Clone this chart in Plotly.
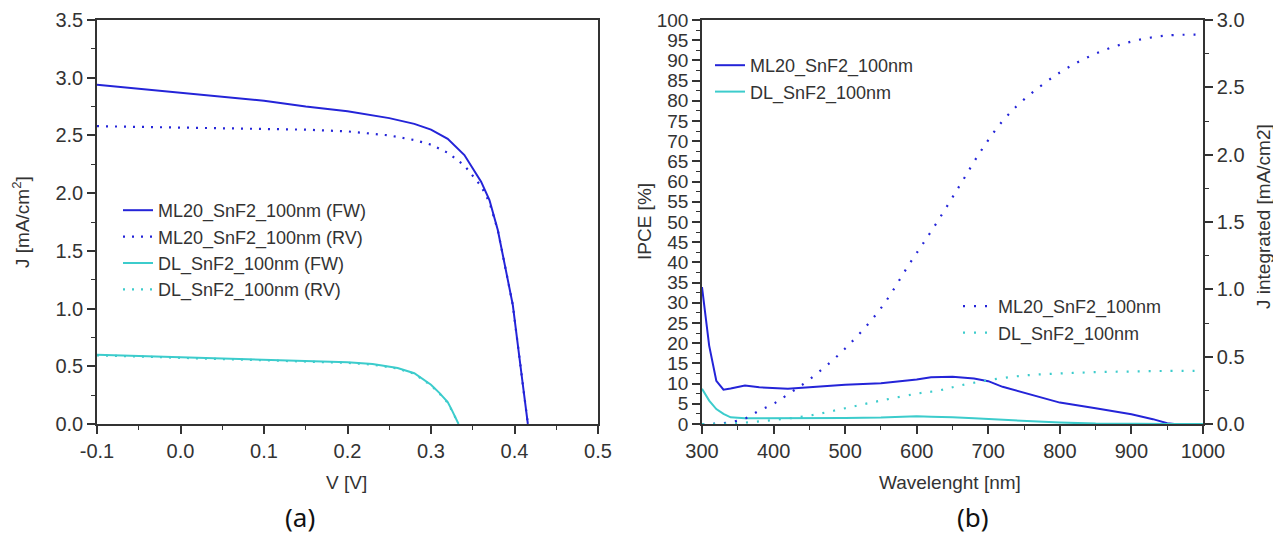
import plotly.graph_objects as go

# (a) J-V curves
v_ml_fw = [-0.1, -0.05, 0.0, 0.05, 0.1, 0.15, 0.2, 0.25, 0.28, 0.3, 0.32, 0.34, 0.36, 0.37, 0.38, 0.39, 0.398, 0.41, 0.416]
j_ml_fw = [2.94, 2.905, 2.87, 2.835, 2.80, 2.75, 2.71, 2.65, 2.60, 2.55, 2.47, 2.33, 2.10, 1.94, 1.68, 1.32, 1.03, 0.34, 0.0]
v_ml_rv = [-0.1, 0.0, 0.1, 0.15, 0.2, 0.25, 0.28, 0.3, 0.32, 0.34, 0.36, 0.37, 0.38, 0.39, 0.398, 0.41, 0.416]
j_ml_rv = [2.58, 2.57, 2.56, 2.55, 2.535, 2.50, 2.46, 2.42, 2.35, 2.24, 2.06, 1.92, 1.68, 1.32, 1.03, 0.34, 0.0]
v_dl = [-0.1, -0.05, 0.0, 0.05, 0.1, 0.15, 0.2, 0.23, 0.26, 0.28, 0.30, 0.31, 0.32, 0.325, 0.333]
j_dl_fw = [0.60, 0.59, 0.58, 0.57, 0.56, 0.55, 0.535, 0.52, 0.485, 0.44, 0.34, 0.27, 0.19, 0.12, 0.0]
j_dl_rv = [0.595, 0.585, 0.575, 0.565, 0.555, 0.545, 0.53, 0.515, 0.48, 0.435, 0.335, 0.265, 0.185, 0.115, 0.0]
v_ticks = [-0.1, 0.0, 0.1, 0.2, 0.3, 0.4, 0.5]
v_tick_labels = ['-0.1', '0.0', '0.1', '0.2', '0.3', '0.4', '0.5']

# (b) IPCE and integrated current
wl_ipce = [300, 305, 310, 320, 330, 340, 360, 380, 400, 420, 450, 500, 550, 600, 620, 650, 680, 700, 720, 750, 800, 850, 900, 930, 950, 960, 1000]
ipce_ml = [33.9, 26, 19.4, 10.7, 8.5, 8.8, 9.5, 9.1, 8.9, 8.7, 9.1, 9.7, 10.1, 11.0, 11.6, 11.7, 11.25, 10.6, 9.2, 7.7, 5.3, 3.9, 2.4, 1.2, 0.2, 0.0, 0.0]
ipce_dl = [8.7, 7.2, 5.8, 3.7, 2.5, 1.65, 1.4, 1.4, 1.4, 1.45, 1.5, 1.5, 1.6, 1.9, 1.8, 1.7, 1.4, 1.2, 1.0, 0.75, 0.35, 0.1, 0.0, 0.0, 0.0, 0.0, 0.0]
wl_jint_ml = [300, 330, 360, 380, 400, 420, 450, 500, 550, 590, 625, 660, 690, 720, 750, 800, 850, 900, 950, 1000]
jint_ml = [0, 0.007, 0.04, 0.10, 0.15, 0.22, 0.33, 0.56, 0.86, 1.19, 1.47, 1.77, 2.03, 2.25, 2.41, 2.61, 2.75, 2.84, 2.885, 2.89]
wl_jint_dl = [300, 350, 400, 450, 500, 550, 600, 632, 660, 700, 750, 800, 850, 900, 950, 1000]
jint_dl = [0, 0.007, 0.03, 0.062, 0.117, 0.174, 0.225, 0.25, 0.285, 0.325, 0.36, 0.375, 0.385, 0.39, 0.394, 0.395]

BLUE = '#2424d8'
CYAN = '#3ccccc'
# the page body keeps its default 8px margin, so the figure is shifted by that much
PAD = 8
W, H = 1281 - PAD, 537 - PAD
FONT = 'Liberation Sans, Arial, sans-serif'
TXT = '#333333'
AX = '#333333'


def px_x(x):
    return (x - PAD) / W


def px_y(y):
    return 1 - (y - PAD) / H


fig = go.Figure()

fig.add_trace(go.Scatter(x=v_ml_fw, y=j_ml_fw, mode='lines', name='ML20_SnF2_100nm (FW)',
                         line=dict(color=BLUE, width=2), legend='legend'))
fig.add_trace(go.Scatter(x=v_ml_rv, y=j_ml_rv, mode='lines', name='ML20_SnF2_100nm (RV)',
                         line=dict(color=BLUE, width=2.2, dash='2px,7px'), legend='legend'))
fig.add_trace(go.Scatter(x=v_dl, y=j_dl_fw, mode='lines', name='DL_SnF2_100nm (FW)',
                         line=dict(color=CYAN, width=2), legend='legend'))
fig.add_trace(go.Scatter(x=v_dl, y=j_dl_rv, mode='lines', name='DL_SnF2_100nm (RV)',
                         line=dict(color=CYAN, width=2.2, dash='2px,7px'), legend='legend'))

fig.add_trace(go.Scatter(x=wl_ipce, y=ipce_ml, mode='lines', name='ML20_SnF2_100nm',
                         line=dict(color=BLUE, width=2), xaxis='x2', yaxis='y2', legend='legend2'))
fig.add_trace(go.Scatter(x=wl_ipce, y=ipce_dl, mode='lines', name='DL_SnF2_100nm',
                         line=dict(color=CYAN, width=2), xaxis='x2', yaxis='y2', legend='legend2'))
fig.add_trace(go.Scatter(x=wl_jint_ml, y=jint_ml, mode='lines', name='ML20_SnF2_100nm',
                         line=dict(color=BLUE, width=2.2, dash='2px,9px', shape='spline'),
                         xaxis='x2', yaxis='y3', legend='legend3'))
fig.add_trace(go.Scatter(x=wl_jint_dl, y=jint_dl, mode='lines', name='DL_SnF2_100nm',
                         line=dict(color=CYAN, width=2.2, dash='2px,9px', shape='spline'),
                         xaxis='x2', yaxis='y3', legend='legend3'))


def axis(size=20, **kw):
    d = dict(showgrid=False, zeroline=False, showline=True, linecolor=AX, linewidth=1.5,
             ticks='outside', ticklen=8, tickwidth=1.5, tickcolor=AX, automargin=False,
             tickfont=dict(family=FONT, size=size, color=TXT))
    d.update(kw)
    return d


def minor(step):
    return dict(ticks='outside', ticklen=4, dtick=step, tickcolor=AX, tickwidth=1.2)


plot_y = [px_y(424), px_y(20)]

fig.update_layout(
    width=W, height=H,
    margin=dict(l=0, r=0, t=0, b=0, autoexpand=False),
    paper_bgcolor='white', plot_bgcolor='white',
    font=dict(family=FONT, size=19, color=TXT),
    xaxis=axis(domain=[px_x(97), px_x(598)], anchor='y', range=[-0.1, 0.5], tickmode='array',
               tickvals=v_ticks, ticktext=v_tick_labels, mirror=True, minor=minor(0.05)),
    yaxis=axis(domain=plot_y, anchor='x', range=[0, 3.5], dtick=0.5, tickformat='.1f',
               mirror=True, minor=minor(0.25)),
    xaxis2=axis(domain=[px_x(702), px_x(1203)], anchor='y2', range=[300, 1000], dtick=100, mirror=True,
                minor=minor(50)),
    yaxis2=axis(size=19, domain=plot_y, anchor='x2', range=[0, 100], dtick=5, minor=minor(2.5)),
    yaxis3=axis(domain=plot_y, anchor='x2', overlaying='y2', side='right', range=[0, 3],
                dtick=0.5, tickformat='.1f', minor=minor(0.25)),
    legend=dict(x=px_x(118), y=px_y(192), xanchor='left', yanchor='top', bgcolor='rgba(0,0,0,0)',
                font=dict(family=FONT, size=18, color=TXT)),
    legend2=dict(x=px_x(710), y=px_y(47), xanchor='left', yanchor='top', bgcolor='rgba(0,0,0,0)',
                 font=dict(family=FONT, size=18, color=TXT)),
    legend3=dict(x=px_x(958), y=px_y(288), xanchor='left', yanchor='top', bgcolor='rgba(0,0,0,0)',
                 font=dict(family=FONT, size=18, color=TXT)),
    showlegend=True,
)

titles = [
    ('J [mA/cm<sup>2</sup>]', 21, 222, -90),
    ('V [V]', 346, 482, 0),
    ('IPCE [%]', 644, 222, -90),
    ('Wavelenght [nm]', 950, 482, 0),
    ('J integrated [mA/cm2]', 1263, 217, -90),
]
for text, x, y, ang in titles:
    fig.add_annotation(text=text, x=px_x(x), y=px_y(y), xref='paper', yref='paper', showarrow=False,
                       textangle=ang, xanchor='center', yanchor='middle',
                       font=dict(family=FONT, size=19, color=TXT))

for text, x in [('(a)', 300), ('(b)', 973)]:
    fig.add_annotation(text=text, x=px_x(x), y=px_y(517), xref='paper', yref='paper', showarrow=False,
                       xanchor='center', yanchor='middle',
                       font=dict(family='Noto Sans, Open Sans, sans-serif', size=26, color='#111111'))

fig.write_html('out.html')
